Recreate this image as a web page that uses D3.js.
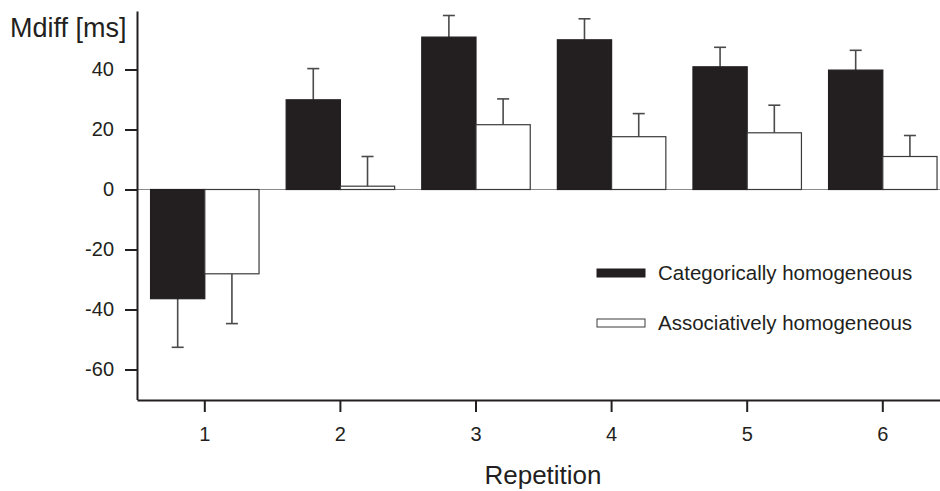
<!DOCTYPE html>
<html>
<head>
<meta charset="utf-8">
<script src="https://cdn.jsdelivr.net/npm/d3@7"></script>
<style>
  body { margin: 0; background: #fff; }
  text { font-family: "Liberation Sans", Arial, sans-serif; fill: #231f20; }
</style>
</head>
<body>
<div class="chart"></div>
<script>
// values
const repetitions = ['1', '2', '3', '4', '5', '6'];
const series = ['Categorically homogeneous', 'Associatively homogeneous'];
const categorical = [-36.4, 29.9, 50.8, 49.9, 40.9, 39.8];
const categoricalErr = [16.2, 10.4, 7.2, 7.0, 6.5, 6.6];
const associative = [-28.1, 1.1, 21.6, 17.6, 18.9, 11.0];
const associativeErr = [16.6, 9.9, 8.6, 7.7, 9.2, 7.0];
const yTicks = [-60, -40, -20, 0, 20, 40];

const width = 940;
const height = 491;

const rows = repetitions.map((r, i) => ({
	rep: r,
	bars: [
		{ key: series[0], value: categorical[i], err: categoricalErr[i] },
		{ key: series[1], value: associative[i], err: associativeErr[i] }
	]
}));

const svg = d3.select('.chart')
	.append('svg')
	.attr('width', width)
	.attr('height', height);

const x0 = d3.scaleBand()
	.domain(repetitions)
	.range([137, 950.6])
	.paddingInner(0.2)
	.paddingOuter(0.1);

const x1 = d3.scaleBand()
	.domain(series)
	.range([0, x0.bandwidth()]);

const y = d3.scaleLinear()
	.domain([-70, 59.5])
	.range([399.5, 11]);

const color = d3.scaleOrdinal()
	.domain(series)
	.range(['#231f20', '#ffffff']);

// zero line
svg.append('line')
	.attr('x1', 137)
	.attr('x2', width)
	.attr('y1', y(0))
	.attr('y2', y(0))
	.attr('stroke', '#8a8a8a')
	.attr('stroke-width', 1.2);

const groups = svg.selectAll('g.rep')
	.data(rows)
	.enter()
	.append('g')
	.attr('class', 'rep')
	.attr('transform', d => `translate(${x0(d.rep)},0)`);

// error bars (only away from zero)
groups.selectAll('g.err')
	.data(d => d.bars)
	.enter()
	.append('g')
	.attr('class', 'err')
	.each(function(d) {
		const g = d3.select(this);
		const cx = x1(d.key) + x1.bandwidth() / 2;
		const end = d.value >= 0 ? d.value + d.err : d.value - d.err;
		g.append('line')
			.attr('x1', cx).attr('x2', cx)
			.attr('y1', y(d.value)).attr('y2', y(end))
			.attr('stroke', '#4a4a4a')
			.attr('stroke-width', 1.6);
		g.append('line')
			.attr('x1', cx - 6).attr('x2', cx + 6)
			.attr('y1', y(end)).attr('y2', y(end))
			.attr('stroke', '#4a4a4a')
			.attr('stroke-width', 1.6);
	});

groups.selectAll('rect')
	.data(d => d.bars)
	.enter()
	.append('rect')
	.attr('x', d => x1(d.key))
	.attr('y', d => y(Math.max(0, d.value)))
	.attr('width', x1.bandwidth())
	.attr('height', d => Math.abs(y(d.value) - y(0)))
	.attr('fill', d => color(d.key))
	.attr('stroke', d => d.key === series[0] ? '#231f20' : '#3a3a3a')
	.attr('stroke-width', 1.2);

// axes
const yAxis = svg.append('g')
	.attr('transform', 'translate(137,0)')
	.call(d3.axisLeft(y).tickValues(yTicks).tickFormat(d => String(d))
		.tickSize(12).tickSizeOuter(0).tickPadding(11));

const xAxis = svg.append('g')
	.attr('transform', 'translate(0,400)')
	.call(d3.axisBottom(x0).tickSize(12).tickSizeOuter(0).tickPadding(15));

[yAxis, xAxis].forEach(a => {
	a.select('.domain').attr('stroke', '#231f20').attr('stroke-width', 2);
	a.selectAll('.tick line').attr('stroke', '#231f20').attr('stroke-width', 2);
	a.selectAll('.tick text')
		.attr('font-size', '20px')
		.attr('font-family', '"Liberation Sans", Arial, sans-serif')
		.attr('fill', '#231f20');
});

svg.append('text')
	.attr('x', 10)
	.attr('y', 37)
	.attr('font-size', '27px')
	.text('Mdiff [ms]');

svg.append('text')
	.attr('x', 543)
	.attr('y', 484)
	.attr('text-anchor', 'middle')
	.attr('font-size', '26px')
	.text('Repetition');

// legend
const legend = svg.selectAll('g.legend')
	.data(series)
	.enter()
	.append('g')
	.attr('class', 'legend')
	.attr('transform', (d, i) => `translate(597,${269 + i * 50})`);

legend.append('rect')
	.attr('width', 48)
	.attr('height', 8)
	.attr('fill', d => color(d))
	.attr('stroke', d => d === series[0] ? '#231f20' : '#3a3a3a')
	.attr('stroke-width', 1);

legend.append('text')
	.attr('x', 61)
	.attr('y', 11)
	.attr('font-size', '20.5px')
	.text(d => d);
</script>
</body>
</html>
